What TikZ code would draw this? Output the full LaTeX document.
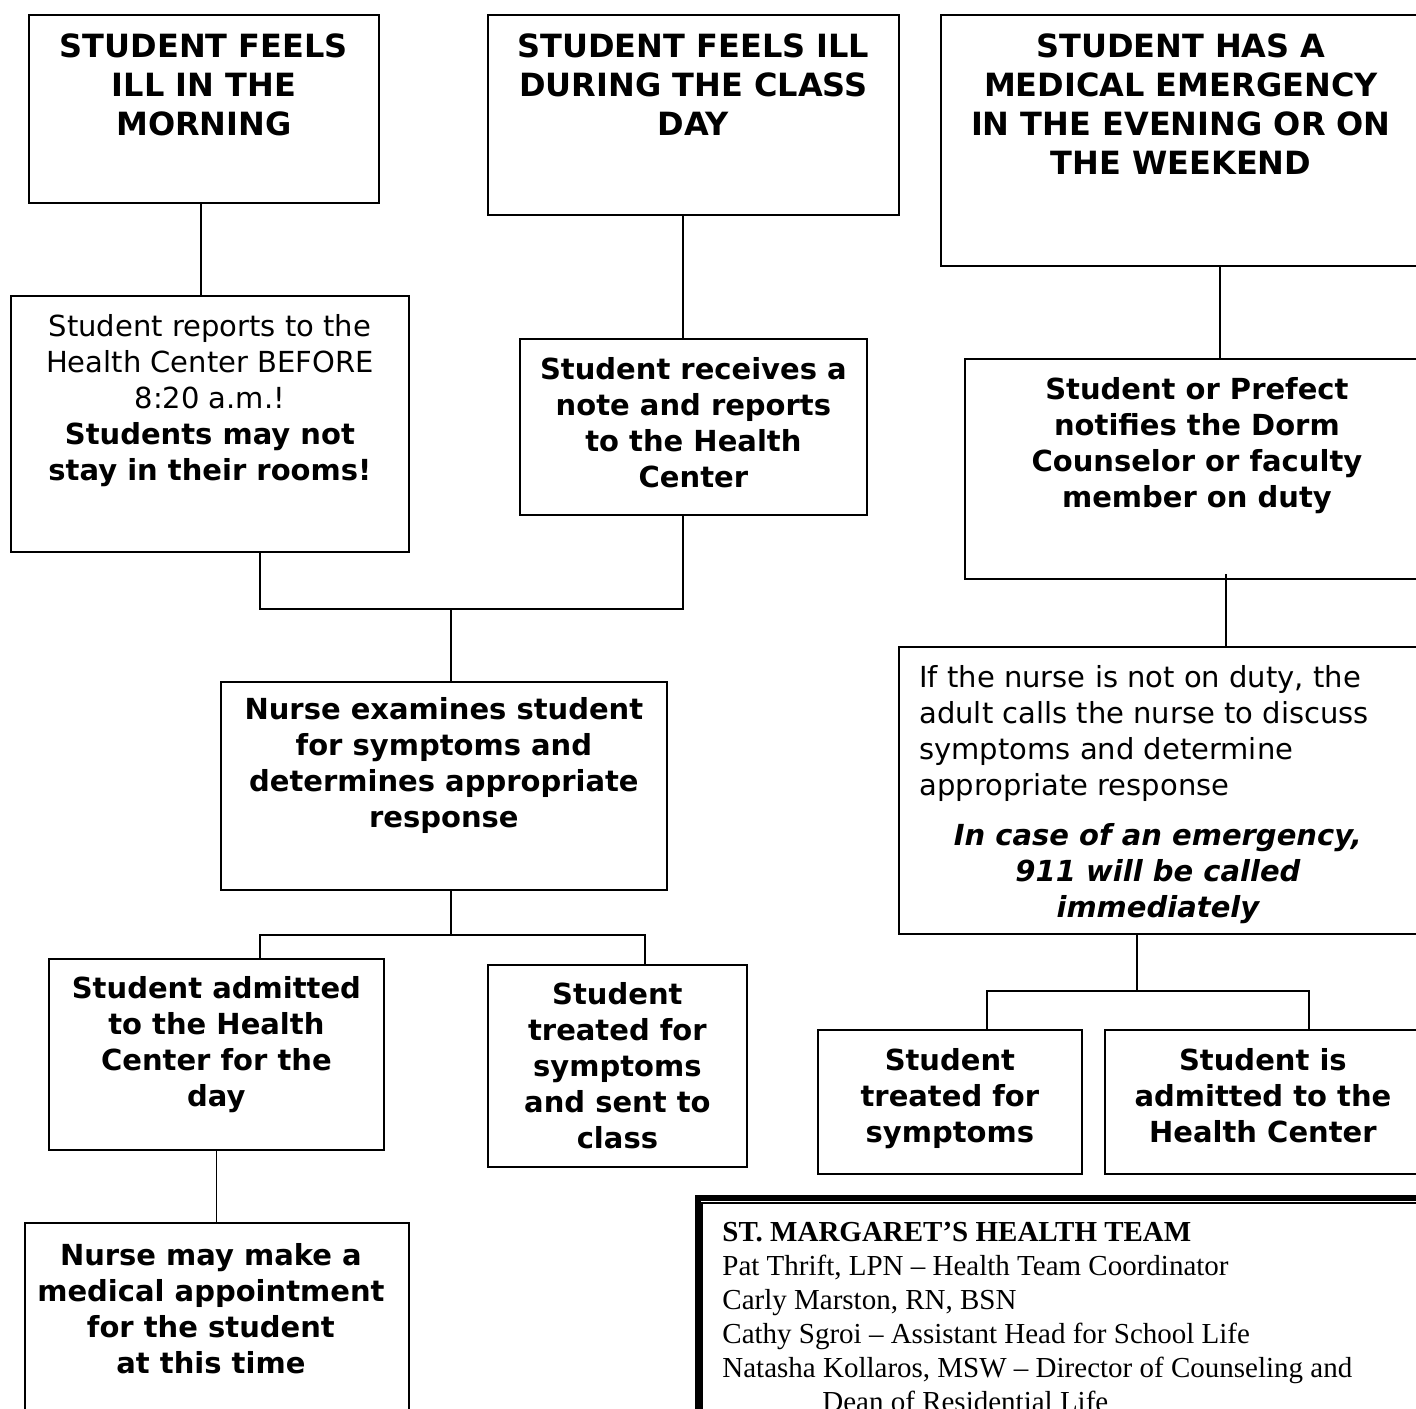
\documentclass[tikz,border=0pt]{standalone}
\usepackage{fontspec}
\setmainfont{DejaVu Sans}
\newfontfamily\teamfont{Liberation Serif}
\usetikzlibrary{positioning}
\tikzset{
	box/.style 2 args={draw, line width=0.9pt, anchor=north west, inner sep=0pt, minimum width=#1, minimum height=#2},
	title/.style={font=\bfseries\fontsize{16}{19.5}\selectfont, align=center, inner sep=0pt},
	txt/.style={font=\fontsize{14.5}{18}\selectfont, align=center, inner sep=0pt},
	btxt/.style={txt, font=\bfseries\fontsize{14.5}{18}\selectfont},
	link/.style={line width=0.8pt}
}
\begin{document}
\begin{tikzpicture}[x=0.5pt,y=-0.5pt]
	\useasboundingbox (0,0) rectangle (1416,1408);
	\node(A1)		[box={175pt}{94pt}] at (28,14) {};
	\node(A2)		[box={199pt}{128pt}] at (10,295) {};
	\node(B1)		[box={205.5pt}{100pt}] at (487,14) {};
	\node(B2)		[box={173.5pt}{88pt}] at (519,338) {};
	\node(C1)		[box={240pt}{125.5pt}] at (940,14) {};
	\node(C2)		[box={232pt}{110pt}] at (964,358) {};
	\node(C3)		[box={265pt}{143.5pt}] at (898,646) {};
	\node(N)		[box={223pt}{104pt}] at (220,681) {};
	\node(S1)		[box={167.5pt}{95.5pt}] at (48,958) {};
	\node(S2)		[box={129.5pt}{101pt}] at (487,964) {};
	\node(S3)		[box={192pt}{110pt}] at (24,1222) {};
	\node(T1)		[box={132pt}{72pt}] at (817,1029) {};
	\node(T2)		[box={158pt}{72pt}] at (1104,1029) {};
	\node(Team)		[box={400pt}{150pt}, line width=3pt] at (694.5,1195) {};
	\node(TeamIn)	[box={400pt}{150pt}, line width=1pt] at (701,1201.5) {};

	\node(A1t)	[title, below=9.75pt of A1.north] {STUDENT FEELS\\ILL IN THE\\MORNING};
	\node(B1t)	[title, below=9.75pt of B1.north] {STUDENT FEELS ILL\\DURING THE CLASS\\DAY};
	\node(C1t)	[title, below=9.75pt of C1.north] {STUDENT HAS A\\MEDICAL EMERGENCY\\IN THE EVENING OR ON\\THE WEEKEND};
	\node(A2t)	[txt, below=9.5pt of A2.north] {Student reports to the\\Health Center BEFORE\\8:20 a.m.!\\\textbf{Students may not}\\\textbf{stay in their rooms!}};
	\node(B2t)	[btxt, below=9.5pt of B2.north] {Student receives a\\note and reports\\to the Health\\Center};
	\node(C2t)	[btxt, below=9.5pt of C2.north] {Student or Prefect\\notifies the Dorm\\Counselor or faculty\\member on duty};
	\node(C3t)	[txt, align=left, below right=9.5pt and 10.5pt of C3.north west] {If the nurse is not on duty, the\\adult calls the nurse to discuss\\symptoms and determine\\appropriate response};
	\node(C3e)	[btxt, font=\bfseries\itshape\fontsize{14.5}{18}\selectfont, below=88.5pt of C3.north, xshift=-3pt] {In case of an emergency,\\911 will be called\\immediately};
	\node(Nt)	[btxt, below=8pt of N.north] {Nurse examines student\\for symptoms and\\determines appropriate\\response};
	\node(S1t)	[btxt, below=9pt of S1.north] {Student admitted\\to the Health\\Center for the\\day};
	\node(S2t)	[btxt, below=9pt of S2.north] {Student\\treated for\\symptoms\\and sent to\\class};
	\node(S3t)	[btxt, below=10.5pt of S3.north, xshift=-3pt] {Nurse may make a\\medical appointment\\for the student\\at this time};
	\node(T1t)	[btxt, below=9.5pt of T1.north] {Student\\treated for\\symptoms};
	\node(T2t)	[btxt, below=9.5pt of T2.north] {Student is\\admitted to the\\Health Center};
	\node(Teamt)	[inner sep=0pt, align=left, font=\teamfont\fontsize{14.5}{17}\selectfont, below right=10.25pt and 10.5pt of TeamIn.north west] {\textbf{ST. MARGARET’S HEALTH TEAM}\\Pat Thrift, LPN – Health Team Coordinator\\Carly Marston, RN, BSN\\Cathy Sgroi – Assistant Head for School Life\\Natasha Kollaros, MSW – Director of Counseling and\\\hspace*{50pt}Dean of Residential Life};

	\coordinate(jL) at (451,609);
	\coordinate(jN) at (451,935);
	\coordinate(jR) at (1137,991);
	\draw[link] ([xshift=-1.5pt]A1.south) -- ([xshift=-4.5pt]A2.north);
	\draw[link] ([xshift=-5.25pt]B1.south) -- ([xshift=-5.25pt]B2.north);
	\draw[link] ([xshift=25pt]A2.south) |- (jL) -| ([xshift=-5.25pt]B2.south);
	\draw[link] (jL) -- (jL |- N.north);
	\draw[link] (N.south -| jN) -- (jN);
	\draw[link] ([xshift=21.75pt]S1.north) |- (jN) -| ([xshift=13.75pt]S2.north);
	\draw[link] (S1.south) -- (S1.south |- S3.north);
	\draw[link] ([xshift=19.5pt]C1.south) -- ([xshift=11.5pt]C2.north);
	\draw[link] ([xshift=14.5pt,yshift=3pt]C2.south) -- ([xshift=31pt]C3.north);
	\draw[link] (C3.south -| jR) -- (jR);
	\draw[link] ([xshift=18.5pt]T1.north) |- (jR) -| ([xshift=23pt]T2.north);
\end{tikzpicture}
\end{document}
